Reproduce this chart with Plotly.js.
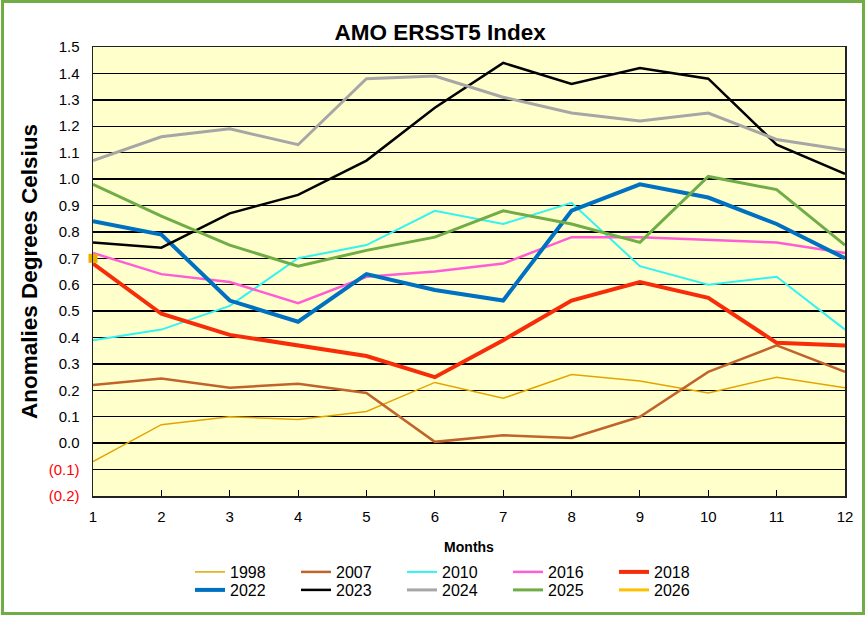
<!DOCTYPE html>
<html>
<head>
<meta charset="utf-8">
<script src="https://cdn.plot.ly/plotly-3.0.1.min.js"></script>
<style>
  html, body { margin: 0; padding: 0; background: #fff; }
  #wrap { position: relative; width: 868px; height: 617px; }
  #chart { position: absolute; left: 0; top: 0; width: 868px; height: 617px; }
  #frame { position: absolute; left: 1px; top: 0px; width: 858px; height: 609px;
           border: 3px solid #70AD47; pointer-events: none; }
</style>
</head>
<body>
<div id="wrap"><div id="chart"></div><div id="frame"></div></div>
<script>
const months = [1,2,3,4,5,6,7,8,9,10,11,12];

const y1998 = [-0.07, 0.07, 0.10, 0.09, 0.12, 0.23, 0.17, 0.26, 0.235, 0.19, 0.25, 0.21];
const y2007 = [0.22, 0.245, 0.21, 0.225, 0.19, 0.005, 0.03, 0.02, 0.10, 0.27, 0.37, 0.27];
const y2010 = [0.39, 0.43, 0.52, 0.70, 0.75, 0.88, 0.83, 0.91, 0.67, 0.60, 0.63, 0.43];
const y2016 = [0.72, 0.64, 0.61, 0.53, 0.63, 0.65, 0.68, 0.78, 0.78, 0.77, 0.76, 0.72];
const y2018 = [0.68, 0.49, 0.41, 0.37, 0.33, 0.25, 0.39, 0.54, 0.61, 0.55, 0.38, 0.37];
const y2022 = [0.84, 0.79, 0.54, 0.46, 0.64, 0.58, 0.54, 0.88, 0.98, 0.93, 0.83, 0.70];
const y2023 = [0.76, 0.74, 0.87, 0.94, 1.07, 1.27, 1.44, 1.36, 1.42, 1.38, 1.13, 1.02];
const y2024 = [1.07, 1.16, 1.19, 1.13, 1.38, 1.39, 1.31, 1.25, 1.22, 1.25, 1.15, 1.11];
const y2025 = [0.98, 0.86, 0.75, 0.67, 0.73, 0.78, 0.88, 0.83, 0.76, 1.01, 0.96, 0.75];
const y2026 = [0.70];

const yTickVals = [-0.2,-0.1,0,0.1,0.2,0.3,0.4,0.5,0.6,0.7,0.8,0.9,1.0,1.1,1.2,1.3,1.4,1.5];
const yTickText = ['<span style="color:#FF0000">(0.2)</span>','<span style="color:#FF0000">(0.1)</span>',
  '0.0','0.1','0.2','0.3','0.4','0.5','0.6','0.7','0.8','0.9','1.0','1.1','1.2','1.3','1.4','1.5'];

function tr(name, y, color, width, legend) {
  return { x: months.slice(0, y.length), y: y, name: name, type: 'scatter', mode: 'lines',
           line: { color: color, width: width }, legend: legend };
}

const data = [
  tr('1998', y1998, '#E2A500', 1.5, 'legend'),
  tr('2007', y2007, '#C0642C', 2.5, 'legend'),
  tr('2010', y2010, '#33F2F2', 2, 'legend'),
  tr('2016', y2016, '#FF5CD6', 2.5, 'legend'),
  tr('2018', y2018, '#F72D0A', 4, 'legend'),
  tr('2022', y2022, '#0070C0', 4, 'legend2'),
  tr('2023', y2023, '#000000', 2.5, 'legend2'),
  tr('2024', y2024, '#A6A6A6', 3, 'legend2'),
  tr('2025', y2025, '#70AD47', 3, 'legend2'),
  tr('2026', y2026, '#FFC000', 3, 'legend2'),
  { x: months.slice(0, y2026.length), y: y2026, type: 'scatter', mode: 'markers', showlegend: false,
    marker: { symbol: 'square', size: 9, color: '#E9B000' }, cliponaxis: false, hoverinfo: 'skip' }
];

const legendBase = {
  orientation: 'h', xref: 'container', yref: 'container', xanchor: 'left', yanchor: 'middle',
  font: { family: 'Liberation Sans, Arial, sans-serif', size: 16, color: '#000' },
  entrywidth: 61, bgcolor: 'rgba(0,0,0,0)', tracegroupgap: 0, itemwidth: 30
};

const layout = {
  width: 868, height: 617,
  margin: { l: 93, r: 23, t: 47, b: 121 },
  paper_bgcolor: '#FFFFFF', plot_bgcolor: '#FFFFCC',
  font: { family: 'Liberation Sans, Arial, sans-serif', color: '#000' },
  title: { text: '<b>AMO ERSST5 Index</b>', x: 0.507, xref: 'container', y: 1 - 32/617, yref: 'container',
           xanchor: 'center', yanchor: 'middle', font: { size: 22.5, color: '#000' } },
  xaxis: {
    range: [1, 12], tickvals: months, ticktext: months.map(String),
    ticks: 'inside', ticklen: 6, tickcolor: '#000', tickwidth: 1,
    showline: true, linecolor: '#222', linewidth: 1.5, mirror: true,
    showgrid: false, zeroline: false, ticklabelstandoff: 6,
    tickfont: { size: 15 },
    title: { text: '<b>Months</b>', font: { size: 14 }, standoff: 18 }
  },
  yaxis: {
    range: [-0.2, 1.5], tickvals: yTickVals, ticktext: yTickText,
    showline: true, linecolor: '#222', linewidth: 1.5, mirror: true,
    showgrid: true, gridcolor: '#000', gridwidth: 1.4, zeroline: false,
    ticks: '', ticklabelstandoff: 9,
    tickfont: { size: 15 },
    title: { text: '<b>Anomalies Degrees Celsius</b>', font: { size: 22.5 }, standoff: 5 }
  },
  legend: Object.assign({}, legendBase, { x: 190/868, y: 1 - 572/617 }),
  legend2: Object.assign({}, legendBase, { x: 190/868, y: 1 - 590/617 }),
  showlegend: true
};

Plotly.newPlot('chart', data, layout, { displayModeBar: false, staticPlot: true });
</script>
</body>
</html>
